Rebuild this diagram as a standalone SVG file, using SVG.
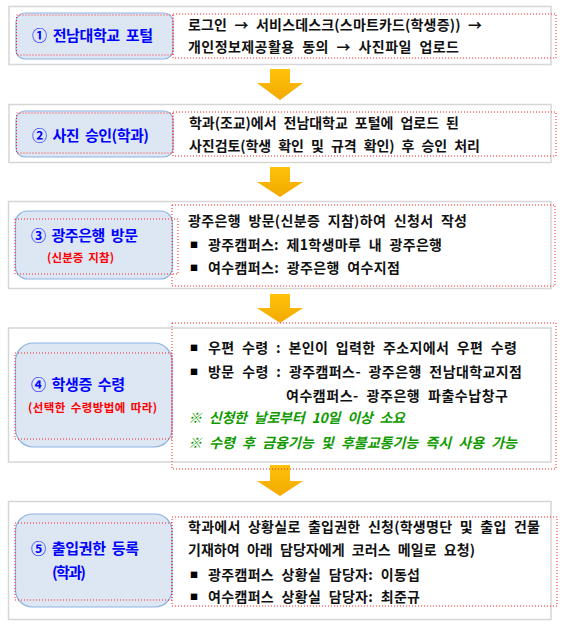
<svg xmlns="http://www.w3.org/2000/svg" width="565" height="631" viewBox="0 0 565 631">
<style>
.outer{fill:#fff;stroke:#D6D6D6;stroke-width:1.5}
.lbox{fill:#DDE7F3;stroke:#8DB3E2;stroke-width:1.2}
.dot{fill:none;stroke:#FF2020;stroke-width:1;stroke-dasharray:1 2}
text{font-family:"Noto Sans CJK KR","Noto Sans",sans-serif;font-weight:700}
.t{font-size:14px;fill:#111;word-spacing:4px}
.h{font-size:15px;fill:#0000FF;word-spacing:3px}
.s{font-size:11.5px;fill:#FF0000;word-spacing:2px}
.g{font-size:14px;fill:#119A00;font-style:italic;word-spacing:4px}
.b{font-size:8px;fill:#000}
.arr{fill:url(#ag)}
</style>
<defs>
<linearGradient id="ag" x1="0" y1="0" x2="0" y2="1">
<stop offset="0" stop-color="#FFC20A"/>
<stop offset="1" stop-color="#F2A900"/>
</linearGradient>
</defs>
<rect width="565" height="631" fill="#fff"/>
<g id="connectors">
<path class="arr" d="M270 69H290V83H303L280 100L257 83H270Z"/>
<path class="arr" d="M270 167H290V182H303L280 197L257 182H270Z"/>
<path class="arr" d="M270 294H290V308H303L280 323L257 308H270Z"/>
<path class="arr" d="M270 465H290V481H303L280 496L257 481H270Z"/>
</g>
<g id="step1">
<rect class="outer" x="9" y="6.5" width="542" height="58"/>
<rect class="lbox" x="16" y="13" width="157" height="46" rx="9"/>
<rect class="dot" x="16.5" y="15" width="156.5" height="40"/>
<rect class="dot" x="173" y="14" width="383" height="44"/>
<text class="h" x="32" y="41" textLength="121" lengthAdjust="spacing">① 전남대학교 포털</text>
<text class="t" x="188" y="30" textLength="294" lengthAdjust="spacing">로그인 → 서비스데스크(스마트카드(학생증)) →</text>
<text class="t" x="188" y="52" textLength="271" lengthAdjust="spacing">개인정보제공활용 동의 → 사진파일 업로드</text>
</g>
<g id="step2">
<rect class="outer" x="9" y="104.5" width="542" height="58"/>
<rect class="lbox" x="16" y="111" width="157" height="46" rx="9"/>
<rect class="dot" x="16.5" y="113" width="156.5" height="40"/>
<rect class="dot" x="173" y="112" width="383" height="44"/>
<text class="h" x="32" y="141" textLength="117" lengthAdjust="spacing">② 사진 승인(학과)</text>
<text class="t" x="189" y="128" textLength="270" lengthAdjust="spacing">학과(조교)에서 전남대학교 포털에 업로드 된</text>
<text class="t" x="189" y="151" textLength="291" lengthAdjust="spacing">사진검토(학생 확인 및 규격 확인) 후 승인 처리</text>
</g>
<g id="step3">
<rect class="outer" x="8.5" y="201.5" width="542.5" height="87"/>
<rect class="lbox" x="15.5" y="211" width="157" height="68" rx="12"/>
<rect class="dot" x="15" y="219" width="163" height="55"/>
<rect class="dot" x="172" y="205" width="383" height="81"/>
<text class="h" x="31" y="241" textLength="107" lengthAdjust="spacing">③ 광주은행 방문</text>
<text class="s" x="47" y="262" textLength="67" lengthAdjust="spacing">(신분증 지참)</text>
<text class="t" x="188" y="226" textLength="279" lengthAdjust="spacing">광주은행 방문(신분증 지참)하여 신청서 작성</text>
<text class="b" x="190" y="248">■</text>
<text class="t" x="208" y="250" textLength="234" lengthAdjust="spacing">광주캠퍼스: 제1학생마루 내 광주은행</text>
<text class="b" x="190" y="271">■</text>
<text class="t" x="208" y="273" textLength="192" lengthAdjust="spacing">여수캠퍼스: 광주은행 여수지점</text>
</g>
<g id="step4">
<rect class="outer" x="8.5" y="328" width="542.5" height="134"/>
<rect class="lbox" x="15.5" y="343" width="156.5" height="104" rx="18"/>
<rect class="dot" x="15" y="353" width="157" height="86"/>
<rect class="dot" x="172" y="323" width="384" height="146"/>
<text class="h" x="31" y="390" textLength="94" lengthAdjust="spacing">④ 학생증 수령</text>
<text class="s" x="28" y="412" textLength="129" lengthAdjust="spacing">(선택한 수령방법에 따라)</text>
<text class="b" x="190" y="351">■</text>
<text class="t" x="208" y="353" textLength="309" lengthAdjust="spacing">우편 수령 : 본인이 입력한 주소지에서 우편 수령</text>
<text class="b" x="190" y="375">■</text>
<text class="t" x="208" y="377" textLength="314" lengthAdjust="spacing">방문 수령 : 광주캠퍼스- 광주은행 전남대학교지점</text>
<text class="t" x="286" y="401" textLength="222" lengthAdjust="spacing">여수캠퍼스- 광주은행 파출수납창구</text>
<text class="g" x="188" y="423" textLength="217" lengthAdjust="spacing">※ 신청한 날로부터 10일 이상 소요</text>
<text class="g" x="188" y="448" textLength="329" lengthAdjust="spacing">※ 수령 후 금융기능 및 후불교통기능 즉시 사용 가능</text>
</g>
<g id="step5">
<rect class="outer" x="8.5" y="501.5" width="542.5" height="118"/>
<rect class="lbox" x="15.5" y="514" width="156.5" height="93" rx="17"/>
<rect class="dot" x="15" y="523" width="157" height="77"/>
<rect class="dot" x="172" y="517" width="385" height="89"/>
<text class="h" x="31" y="554" textLength="108" lengthAdjust="spacing">⑤ 출입권한 등록</text>
<text class="h" x="52" y="578" textLength="34" lengthAdjust="spacing">(학과)</text>
<text class="t" x="188" y="532" textLength="352" lengthAdjust="spacing">학과에서 상황실로 출입권한 신청(학생명단 및 출입 건물</text>
<text class="t" x="188" y="555" textLength="287" lengthAdjust="spacing">기재하여 아래 담당자에게 코러스 메일로 요청)</text>
<text class="b" x="190" y="578">■</text>
<text class="t" x="208" y="580" textLength="212" lengthAdjust="spacing">광주캠퍼스 상황실 담당자: 이동섭</text>
<text class="b" x="190" y="600">■</text>
<text class="t" x="208" y="602" textLength="212" lengthAdjust="spacing">여수캠퍼스 상황실 담당자: 최준규</text>
</g>
</svg>
